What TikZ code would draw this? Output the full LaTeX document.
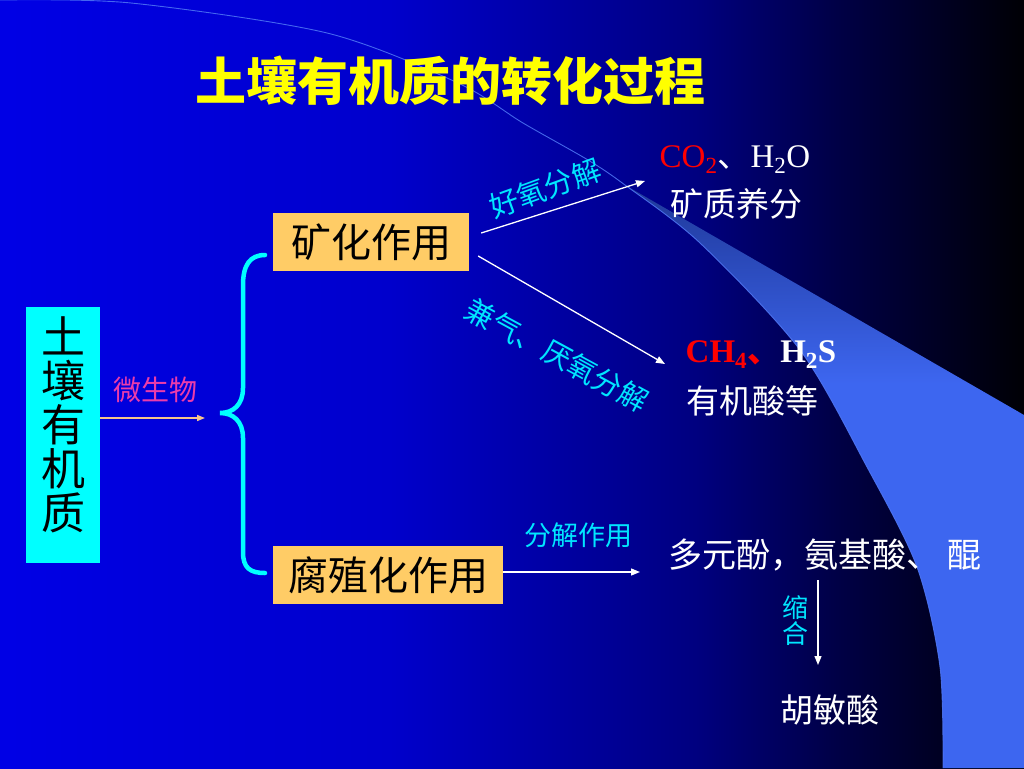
\documentclass[tikz,border=0pt]{standalone}
\usepackage{fontspec}
\setmainfont{Liberation Serif}
\newfontfamily\cjk{Noto Sans CJK SC}
\usetikzlibrary{arrows.meta}
\definecolor{boxor}{RGB}{255,204,102}
\definecolor{cyanlab}{RGB}{0,230,255}
\definecolor{boxcy}{RGB}{0,255,255}
\definecolor{peach}{RGB}{245,195,140}
\definecolor{pinkm}{RGB}{235,60,170}
\definecolor{swline}{RGB}{80,120,245}
\definecolor{titley}{RGB}{255,255,0}
\pgfdeclarehorizontalshading{bgsh}{100bp}{rgb(0bp)=(0,0,0.9); rgb(25bp)=(0,0,0.9); rgb(44bp)=(0,0,0.8); rgb(59bp)=(0,0,0.5); rgb(66bp)=(0,0,0.27); rgb(75bp)=(0,0,0.02); rgb(100bp)=(0,0,0.02)}
\pgfdeclareverticalshading{bandsh}{100bp}{rgb(0bp)=(0.24,0.4,0.94); rgb(58bp)=(0.24,0.4,0.94); rgb(75bp)=(0.12,0.22,0.6); rgb(100bp)=(0.12,0.22,0.6)}
\begin{document}
\begin{tikzpicture}[x=1pt,y=-1pt,
  cjkfs/.style={font=\cjk\fontsize{#1}{#1}\selectfont},
  obox/.style={fill=boxor, minimum height=58pt, inner sep=0pt, text=black, cjkfs=40},
  lab/.style={text=cyanlab, inner sep=0pt, cjkfs=29},
  wtxt/.style={text=white, inner sep=0pt, cjkfs=33},
  warrow/.style={white, line width=1.3pt, -{Triangle[length=9pt,width=7pt]}}]
\useasboundingbox (0,0) rectangle (1024,768);
\shade[shading=bgsh] (0,0) rectangle (1024,768);
\shade[shading=bandsh] plot[smooth] coordinates {(625,185) (700,243) (800,350) (867,467) (917,567) (940,667) (943,768)} -- (1024,768) -- (1024,415) -- cycle;
\draw[swline, line width=0.9pt, opacity=0.85] plot[smooth] coordinates {(0,0) (131,3) (327,33) (458,83) (523,123) (588,160) (625,185) (700,243) (800,350) (867,467) (917,567) (940,667) (943,768)};

\node[text=titley, inner sep=0pt, font=\cjk\bfseries\fontsize{51}{51}\selectfont] (title) at (450,81) {土壤有机质的转化过程};

\node[fill=boxcy, minimum width=74pt, minimum height=256pt, inner sep=0pt] (soil) at (63,435) {};
\node[align=center, text=black, inner sep=0pt, cjkfs=44] (soiltxt) at (63,425) {土\\壤\\有\\机\\质};

\node[text=pinkm, inner sep=0pt, cjkfs=28] (micro) at (155,390) {微生物};
\coordinate (mend) at (205,418);
\draw[peach, line width=1.5pt, -{Triangle[length=8pt,width=6pt]}] ([yshift=17pt]soil.east) -- (mend);

\draw[boxcy, line width=4.5pt, line cap=round] (265,255) .. controls (250,255) and (243,265) .. (243,285) -- (243,388) .. controls (243,405) and (233,413) .. (220,413) .. controls (233,413) and (243,421) .. (243,438) -- (243,552) .. controls (243,568) and (250,573) .. (265,573);

\node[obox, minimum width=196pt] (mine) at (371,242) {矿化作用\hspace{19pt}};
\node[obox, minimum width=230pt] (hum) at (388,575) {腐殖化作用};

\coordinate (a1) at (645,181);
\coordinate (a2) at (665,364);
\coordinate (a3) at (640,572);
\coordinate (a4) at (818,580);
\coordinate (a5) at (818,665);
\draw[warrow] ([shift={(12pt,9pt)}]mine.east) -- (a1);
\draw[warrow] ([shift={(9pt,-14pt)}]mine.east) -- (a2);
\draw[warrow] ([yshift=3pt]hum.east) -- (a3);
\draw[warrow] (a4) -- (a5);

\node[lab, rotate=20] (aer) at (545,188) {好氧分解};
\node[lab, rotate=-28.5] (ana) at (557,355) {兼气、厌氧分解};
\node[lab, cjkfs=27] (dec) at (578,535) {分解作用};
\node[lab, align=center, cjkfs=26] (cond) at (795,621) {缩\\合};

\node[text=white, inner sep=0pt, anchor=base, font=\fontsize{33}{33}\selectfont] (co2) at (735,167) {\textcolor{red}{CO\textsubscript{2}}{\cjk 、}H\textsubscript{2}O};
\node[wtxt] (minr) at (736,204) {矿质养分};
\node[text=white, inner sep=0pt, anchor=base, font=\bfseries\fontsize{33}{33}\selectfont] (ch4) at (761,362) {\textcolor{red}{CH\textsubscript{4}{\cjk 、}}H\textsubscript{2}S};
\node[wtxt] (org) at (752,401) {有机酸等};
\node[wtxt, cjkfs=34] (poly) at (825,555) {多元酚，氨基酸、 醌};
\node[wtxt] (hu) at (830,710) {胡敏酸};
\end{tikzpicture}
\end{document}
